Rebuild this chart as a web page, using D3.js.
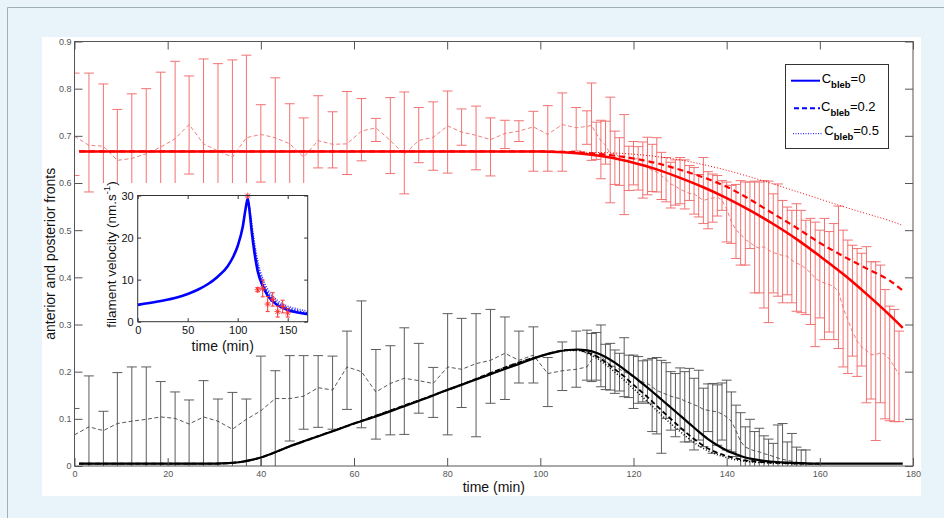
<!DOCTYPE html>
<html><head><meta charset="utf-8">
<script src="https://cdn.jsdelivr.net/npm/d3@7"></script>
<style>body{margin:0;background:#e8f4fa;}svg{display:block;}</style>
</head><body>
<svg id="c" width="944" height="518"></svg>
<script>
// ---------- DATA ----------
const xTicks = [0, 20, 40, 60, 80, 100, 120, 140, 160, 180];
const yTicks = [0, 0.1, 0.2, 0.3, 0.4, 0.5, 0.6, 0.7, 0.8, 0.9];
const insetXTicks = [0, 50, 100, 150];
const insetYTicks = [0, 10, 20, 30];

const timeEarly = [0, 3.1, 6.2, 9.2, 12.3, 15.4, 18.5, 21.6, 24.6, 27.7, 30.8, 33.9, 36.9, 40.0, 43.1, 46.2, 49.2, 52.3, 55.4, 58.5, 61.6, 64.7, 67.8, 70.8, 73.9, 77.0, 80.1, 83.1, 86.2, 89.3, 92.4, 95.4, 98.5, 101.6, 104.7, 107.7];
const timeLate = [110, 111, 112, 113, 114, 115, 116, 117, 118, 119, 120, 121, 122, 123, 124, 125, 126, 127, 128, 129, 130, 131, 132, 133, 134, 135, 136, 137, 138, 139, 140, 141, 142, 143, 144, 145, 146, 147, 148, 149, 150, 151, 152, 153, 154, 155, 156, 157, 158, 159, 160, 161, 162, 163, 164, 165, 166, 167, 168, 169, 170, 171, 172, 173, 174, 175, 176, 177];

// anterior front (red) : mean, lower and upper ends of error bars
const redMean = [0.699, 0.680, 0.678, 0.648, 0.652, 0.662, 0.676, 0.694, 0.724, 0.683, 0.668, 0.655, 0.696, 0.703, 0.696, 0.683, 0.655, 0.690, 0.682, 0.683, 0.710, 0.717, 0.690, 0.661, 0.690, 0.697, 0.721, 0.708, 0.701, 0.692, 0.705, 0.710, 0.719, 0.703, 0.724, 0.717,
  0.720, 0.722, 0.705, 0.690, 0.680, 0.661, 0.663, 0.655, 0.658, 0.652, 0.650, 0.652, 0.645, 0.633, 0.627, 0.623, 0.616, 0.607, 0.598, 0.593, 0.587, 0.582, 0.578, 0.577, 0.570, 0.563, 0.566, 0.568, 0.570, 0.563, 0.545, 0.518, 0.500, 0.492, 0.480, 0.474, 0.466, 0.462, 0.465, 0.458, 0.452, 0.450, 0.446, 0.445, 0.436, 0.430, 0.426, 0.418, 0.410, 0.398, 0.392, 0.388, 0.385, 0.380, 0.370, 0.335, 0.310, 0.285, 0.265, 0.252, 0.245, 0.236, 0.236, 0.240, 0.237, 0.226, 0.210, 0.194];
const redHigh = [0.833, 0.833, 0.810, 0.756, 0.789, 0.800, 0.835, 0.858, 0.827, 0.863, 0.853, 0.861, 0.871, 0.766, 0.823, 0.768, 0.738, 0.785, 0.751, 0.794, 0.779, 0.737, 0.781, 0.793, 0.760, 0.772, 0.795, 0.757, 0.763, 0.738, 0.733, 0.732, 0.752, 0.764, 0.791, 0.760,
  0.753, 0.812, 0.729, 0.733, 0.731, 0.782, 0.710, 0.696, 0.745, 0.678, 0.688, 0.677, 0.687, 0.697, 0.682, 0.696, 0.665, 0.654, 0.644, 0.649, 0.654, 0.649, 0.637, 0.633, 0.618, 0.654, 0.624, 0.619, 0.616, 0.605, 0.602, 0.595, 0.597, 0.605, 0.602, 0.602, 0.604, 0.602, 0.605, 0.604, 0.577, 0.598, 0.563, 0.549, 0.542, 0.556, 0.542, 0.521, 0.525, 0.517, 0.500, 0.525, 0.497, 0.514, 0.551, 0.500, 0.479, 0.468, 0.461, 0.451, 0.465, 0.433, 0.433, 0.426, 0.374, 0.339, 0.332, 0.286];
const redLow = [0.616, 0.581, 0.546, 0.540, 0.515, 0.524, 0.517, 0.530, 0.619, 0.503, 0.483, 0.450, 0.520, 0.602, 0.570, 0.585, 0.572, 0.632, 0.632, 0.618, 0.647, 0.688, 0.620, 0.577, 0.643, 0.627, 0.621, 0.680, 0.628, 0.615, 0.673, 0.688, 0.625, 0.625, 0.625, 0.668,
  0.682, 0.648, 0.650, 0.609, 0.640, 0.558, 0.597, 0.595, 0.533, 0.584, 0.596, 0.585, 0.568, 0.575, 0.582, 0.581, 0.565, 0.560, 0.547, 0.553, 0.556, 0.545, 0.563, 0.534, 0.528, 0.514, 0.503, 0.517, 0.530, 0.542, 0.475, 0.472, 0.440, 0.426, 0.426, 0.461, 0.367, 0.367, 0.335, 0.304, 0.367, 0.360, 0.346, 0.363, 0.346, 0.328, 0.325, 0.321, 0.300, 0.253, 0.314, 0.268, 0.284, 0.268, 0.249, 0.210, 0.196, 0.233, 0.190, 0.212, 0.134, 0.142, 0.054, 0.134, 0.100, 0.096, 0.094, 0.094];

// posterior front (black)
const blackMean = [0.066, 0.083, 0.075, 0.090, 0.095, 0.099, 0.104, 0.101, 0.089, 0.104, 0.095, 0.078, 0.099, 0.117, 0.143, 0.143, 0.148, 0.166, 0.161, 0.210, 0.200, 0.157, 0.175, 0.186, 0.181, 0.175, 0.210, 0.205, 0.217, 0.224, 0.239, 0.224, 0.235, 0.196, 0.202, 0.205,
  0.210, 0.225, 0.240, 0.235, 0.222, 0.215, 0.210, 0.205, 0.200, 0.195, 0.188, 0.182, 0.178, 0.175, 0.168, 0.160, 0.156, 0.152, 0.148, 0.145, 0.143, 0.138, 0.134, 0.130, 0.126, 0.120, 0.118, 0.116, 0.115, 0.110, 0.104, 0.095, 0.075, 0.052, 0.040, 0.036, 0.032, 0.030, 0.026, 0.024, 0.020, 0.017, 0.014, 0.012, 0.010, 0.008, 0.007, 0.006];
const blackHigh = [0.122, 0.191, 0.116, 0.198, 0.210, 0.210, 0.179, 0.157, 0.140, 0.181, 0.142, 0.156, 0.142, 0.233, 0.202, 0.234, 0.234, 0.234, 0.233, 0.286, 0.350, 0.247, 0.255, 0.293, 0.260, 0.209, 0.323, 0.313, 0.323, 0.332, 0.316, 0.286, 0.295, 0.230, 0.263, 0.286,
  0.288, 0.281, 0.283, 0.299, 0.258, 0.260, 0.246, 0.239, 0.272, 0.235, 0.235, 0.232, 0.223, 0.225, 0.228, 0.230, 0.224, 0.219, 0.200, 0.196, 0.208, 0.200, 0.207, 0.186, 0.203, 0.165, 0.174, 0.175, 0.172, 0.176, 0.182, 0.157, 0.129, 0.113, 0.083, 0.099, 0.073, 0.080, 0.064, 0.057, 0.048, 0.087, 0.090, 0.051, 0.069, 0.040, 0.034, 0.034];
const blackLow = [-0.010, -0.025, -0.020, -0.018, -0.020, -0.012, -0.010, -0.015, -0.010, -0.012, -0.010, -0.020, -0.008, -0.005, -0.010, 0.053, 0.078, 0.082, 0.078, 0.120, 0.081, 0.057, 0.066, 0.067, 0.112, 0.103, 0.066, 0.124, 0.062, 0.133, 0.141, 0.176, 0.176, 0.126, 0.160, 0.167,
  0.182, 0.179, 0.182, 0.168, 0.162, 0.161, 0.154, 0.159, 0.147, 0.145, 0.122, 0.133, 0.136, 0.133, 0.073, 0.068, 0.027, 0.101, 0.076, 0.062, 0.078, 0.051, 0.051, 0.034, 0.055, 0.041, 0.073, 0.027, 0.044, 0.055, 0.034, 0.030, 0.020, -0.005, -0.003, -0.027, -0.009, -0.020, -0.012, -0.009, -0.008, -0.053, -0.062, -0.027, -0.049, -0.024, -0.020, -0.022];

// model curves
const redModelT = [1, 100, 105, 110, 115, 120, 125, 130, 135, 140, 145, 150, 155, 160, 165, 170, 175, 177.8];
const redFit0  = [0.667, 0.667, 0.665, 0.661, 0.654, 0.643, 0.629, 0.611, 0.591, 0.568, 0.542, 0.513, 0.481, 0.445, 0.407, 0.365, 0.320, 0.293];
const redFit02 = [0.667, 0.667, 0.666, 0.664, 0.659, 0.652, 0.642, 0.628, 0.612, 0.592, 0.565, 0.535, 0.505, 0.473, 0.445, 0.419, 0.393, 0.372];
const redFit05 = [0.667, 0.667, 0.666, 0.665, 0.664, 0.661, 0.656, 0.649, 0.639, 0.627, 0.613, 0.598, 0.582, 0.566, 0.550, 0.535, 0.520, 0.510];

const blackModelT = [1, 30, 33, 36, 38, 40, 42, 44, 46, 50, 55, 60, 65, 70, 75, 80, 85, 90, 95, 100, 103, 106, 108, 110, 112, 114, 116, 118, 120, 122, 124, 126, 128, 130, 132, 134, 136, 138, 140, 142, 144, 146, 148, 150, 153, 156, 160, 177.8];
const blackFit0 = [0.005, 0.005, 0.006, 0.009, 0.013, 0.018, 0.025, 0.033, 0.041, 0.055, 0.072, 0.090, 0.106, 0.124, 0.142, 0.161, 0.179, 0.197, 0.215, 0.233, 0.241, 0.246, 0.247, 0.245, 0.240, 0.231, 0.219, 0.205, 0.190, 0.174, 0.158, 0.141, 0.124, 0.107, 0.090, 0.073, 0.057, 0.044, 0.033, 0.025, 0.018, 0.014, 0.011, 0.009, 0.007, 0.006, 0.005, 0.005];
const blackAltT = [1, 30, 36, 40, 46, 60, 80, 100, 106, 108, 110, 112, 114, 116, 118, 120, 122, 124, 126, 128, 130, 132, 134, 136, 138, 140, 142, 144, 146, 148, 150, 153, 156, 160];
const blackFit02 = [0.005, 0.005, 0.009, 0.018, 0.041, 0.090, 0.161, 0.233, 0.246, 0.246, 0.241, 0.233, 0.220, 0.205, 0.190, 0.172, 0.155, 0.137, 0.118, 0.100, 0.082, 0.065, 0.050, 0.037, 0.028, 0.021, 0.016, 0.012, 0.010, 0.008, 0.007, 0.006, 0.005, 0.005];
const blackFit05 = [0.005, 0.005, 0.009, 0.018, 0.041, 0.090, 0.161, 0.233, 0.245, 0.245, 0.239, 0.229, 0.215, 0.199, 0.182, 0.164, 0.146, 0.127, 0.108, 0.090, 0.073, 0.057, 0.043, 0.032, 0.024, 0.018, 0.013, 0.010, 0.008, 0.007, 0.006, 0.005, 0.005, 0.005];

// inset: filament velocity
const insetT  = [0, 20, 40, 50, 60, 70, 80, 90, 95, 100, 105, 108, 110, 112, 114, 117, 120, 125, 130, 140, 150, 160, 170];
const insetV0 = [4.0, 4.8, 5.8, 6.6, 7.6, 8.9, 10.7, 13.2, 15.2, 18.0, 22.5, 27.0, 29.3, 26.0, 21.5, 16.0, 12.0, 8.5, 6.2, 3.9, 2.8, 2.2, 1.8];
const insetAltT = [110, 112, 114, 117, 120, 125, 130, 140, 150, 160, 170];
const insetV02 = [29.3, 26.5, 22.5, 17.5, 13.5, 9.5, 7.0, 4.5, 3.3, 2.6, 2.1];
const insetV05 = [29.3, 27.0, 23.5, 18.5, 14.5, 10.3, 7.7, 5.0, 3.7, 3.0, 2.5];
const expT   = [110, 120, 125, 130, 135, 140, 145, 150];
const expV   = [29.9, 7.6, 7.9, 4.2, 5.3, 2.4, 3.6, 2.1];
const expErr = [0, 0.5, 2.0, 1.8, 1.6, 1.3, 1.5, 1.0];

const legendLabels = ["=0", "=0.2", "=0.5"];

// ---------- DRAWING ----------
const FONT = "'Liberation Sans', Arial, Helvetica, sans-serif";
const frontTime = timeEarly.concat(timeLate);
const backTime = timeEarly.concat(timeLate.slice(0, blackMean.length - timeEarly.length));

const svg = d3.select('#c');
svg.append('rect').attr('width', 944).attr('height', 518).attr('fill', '#e8f4fa');
svg.append('path').attr('d', 'M7.5,518V7.5H944').attr('fill', 'none').attr('stroke', '#9fb0b9').attr('stroke-width', 1);
svg.append('rect').attr('x', 42).attr('y', 37).attr('width', 879).attr('height', 459).attr('fill', '#fff');

const x = d3.scaleLinear().domain([0, 180]).range([74.5, 913]);
const y = d3.scaleLinear().domain([0, 0.9]).range([466, 41.5]);

svg.append('defs').append('clipPath').attr('id', 'pc')
  .append('rect').attr('x', x(0)).attr('y', y(0.9)).attr('width', x(180) - x(0)).attr('height', y(0) - y(0.9));

const plot = svg.append('g').attr('clip-path', 'url(#pc)');

function errorBars(T, lo, hi, color, cap) {
  plot.append('path')
    .attr('d', T.map((t, i) => {
      const xx = x(t), y1 = y(lo[i]), y2 = y(hi[i]);
      return `M${xx},${y1}V${y2}M${xx - cap},${y1}H${xx + cap}M${xx - cap},${y2}H${xx + cap}`;
    }).join(''))
    .attr('fill', 'none').attr('stroke', color).attr('stroke-width', 1);
}
const lin = d3.line().x(d => x(d[0])).y(d => y(d[1]));
const smooth = d3.line().x(d => x(d[0])).y(d => y(d[1])).curve(d3.curveMonotoneX);

errorBars(frontTime, redLow, redHigh, '#f27272', 5);
errorBars(backTime, blackLow, blackHigh, '#5c5c5c', 5);

plot.append('path').attr('d', lin(d3.zip(frontTime, redMean))).attr('fill', 'none')
  .attr('stroke', '#ee7070').attr('stroke-width', 0.9).attr('stroke-dasharray', '4,2.5');
plot.append('path').attr('d', lin(d3.zip(backTime, blackMean))).attr('fill', 'none')
  .attr('stroke', '#444').attr('stroke-width', 0.9).attr('stroke-dasharray', '4,2.5');

// models
plot.append('path').attr('d', smooth(d3.zip(blackAltT, blackFit05))).attr('fill', 'none')
  .attr('stroke', '#000').attr('stroke-width', 1.5).attr('stroke-dasharray', '1,2');
plot.append('path').attr('d', smooth(d3.zip(blackAltT, blackFit02))).attr('fill', 'none')
  .attr('stroke', '#000').attr('stroke-width', 1.8).attr('stroke-dasharray', '5,3');
plot.append('path').attr('d', smooth(d3.zip(blackModelT, blackFit0))).attr('fill', 'none')
  .attr('stroke', '#000').attr('stroke-width', 2.2);

plot.append('path').attr('d', smooth(d3.zip(redModelT, redFit05))).attr('fill', 'none')
  .attr('stroke', '#ff0000').attr('stroke-width', 1).attr('stroke-dasharray', '1,2');
plot.append('path').attr('d', smooth(d3.zip(redModelT, redFit02))).attr('fill', 'none')
  .attr('stroke', '#ff0000').attr('stroke-width', 2.2).attr('stroke-dasharray', '6,4');
plot.append('path').attr('d', smooth(d3.zip(redModelT, redFit0))).attr('fill', 'none')
  .attr('stroke', '#ff0000').attr('stroke-width', 2.5);

// axes
function styleAxis(g, size) {
  g.select('.domain').remove();
  g.selectAll('line').attr('stroke', '#555');
  g.selectAll('text').attr('font-family', FONT).attr('font-size', size).attr('fill', '#555');
}
const fmtY = d => d === 0 ? '0' : d3.format('.1f')(d);
svg.append('g').attr('transform', `translate(0,${y(0)})`)
  .call(d3.axisBottom(x).tickValues(xTicks).tickSize(-8).tickPadding(5).tickFormat(d3.format('d')))
  .call(g => styleAxis(g, 9));
svg.append('g').attr('transform', `translate(0,${y(0.9)})`)
  .call(d3.axisTop(x).tickValues(xTicks).tickSize(-8).tickFormat(''))
  .call(g => styleAxis(g, 9));
svg.append('g').attr('transform', `translate(${x(0)},0)`)
  .call(d3.axisLeft(y).tickValues(yTicks).tickSize(-8).tickPadding(3).tickFormat(fmtY))
  .call(g => styleAxis(g, 9));
svg.append('g').attr('transform', `translate(${x(180)},0)`)
  .call(d3.axisRight(y).tickValues(yTicks).tickSize(-8).tickFormat(''))
  .call(g => styleAxis(g, 9));
svg.append('rect').attr('x', x(0)).attr('y', y(0.9)).attr('width', x(180) - x(0)).attr('height', y(0) - y(0.9))
  .attr('fill', 'none').attr('stroke', '#555').attr('stroke-width', 1);

svg.append('text').attr('x', (x(0) + x(180)) / 2).attr('y', 491.5).attr('text-anchor', 'middle')
  .attr('font-family', FONT).attr('font-size', 14).attr('fill', '#111').text('time (min)');
svg.append('text').attr('transform', `translate(55,${(y(0) + y(0.9)) / 2}) rotate(-90)`).attr('text-anchor', 'middle')
  .attr('font-family', FONT).attr('font-size', 14).attr('fill', '#111').text('anterior and posterior fronts');

// legend
const lg = svg.append('g');
lg.append('rect').attr('x', 785.5).attr('y', 64.5).attr('width', 103).attr('height', 84)
  .attr('fill', '#fff').attr('stroke', '#333').attr('stroke-width', 1);
const legRows = [
  {ly: 80.7, x1: 791, x2: 820, dash: null, w: 2, tx: 821.7, by: 82.5},
  {ly: 108.3, x1: 794, x2: 820, dash: '5,3', w: 2, tx: 821, by: 110.5},
  {ly: 133.7, x1: 793, x2: 822, dash: '1,1.5', w: 1, tx: 824.3, by: 135}
];
legRows.forEach((r, i) => {
  const ln = lg.append('line').attr('x1', r.x1).attr('x2', r.x2).attr('y1', r.ly).attr('y2', r.ly)
    .attr('stroke', '#0000ff').attr('stroke-width', r.w);
  if (r.dash) ln.attr('stroke-dasharray', r.dash);
  const t = lg.append('text').attr('x', r.tx).attr('y', r.by).attr('font-family', FONT).attr('fill', '#000');
  t.append('tspan').attr('font-size', 13).text('C');
  t.append('tspan').attr('font-size', 9.5).attr('font-weight', 'bold').attr('dy', 5).text('bleb');
  t.append('tspan').attr('font-size', 13).attr('dy', -5).text(legendLabels[i]);
});

// inset
const ix = d3.scaleLinear().domain([0, 170]).range([137.7, 307.7]);
const iy = d3.scaleLinear().domain([0, 30]).range([321.7, 195.5]);
const ins = svg.append('g');
ins.append('rect').attr('x', 95).attr('y', 183).attr('width', 227).attr('height', 170).attr('fill', '#fff');
svg.append('defs').append('clipPath').attr('id', 'ic')
  .append('rect').attr('x', ix(0)).attr('y', iy(30) - 4).attr('width', ix(170) - ix(0)).attr('height', iy(0) - iy(30) + 4);
const ip = ins.append('g').attr('clip-path', 'url(#ic)');
const iline = d3.line().x(d => ix(d[0])).y(d => iy(d[1])).curve(d3.curveMonotoneX);
ip.append('path').attr('d', iline(d3.zip(insetAltT, insetV05))).attr('fill', 'none')
  .attr('stroke', '#3030ff').attr('stroke-width', 1.5).attr('stroke-dasharray', '1,1.5');
ip.append('path').attr('d', iline(d3.zip(insetAltT, insetV02))).attr('fill', 'none')
  .attr('stroke', '#2020ff').attr('stroke-width', 1.5).attr('stroke-dasharray', '1.5,1.5');
ip.append('path').attr('d', iline(d3.zip(insetT, insetV0))).attr('fill', 'none')
  .attr('stroke', '#0000ff').attr('stroke-width', 2.6);
// experimental points
ip.append('path').attr('d', expT.map((t, i) => {
  const xx = ix(t), y1 = iy(expV[i] - expErr[i]), y2 = iy(expV[i] + expErr[i]);
  return expErr[i] > 0 ? `M${xx},${y1}V${y2}M${xx - 2},${y1}H${xx + 2}M${xx - 2},${y2}H${xx + 2}` : '';
}).join('')).attr('fill', 'none').attr('stroke', '#ff3030').attr('stroke-width', 1);
ip.append('path').attr('d', expT.map((t, i) => {
  const cx = ix(t), cy = iy(expV[i]), r = 3.2, d = r * 0.7;
  return `M${cx - r},${cy}H${cx + r}M${cx},${cy - r}V${cy + r}M${cx - d},${cy - d}L${cx + d},${cy + d}M${cx - d},${cy + d}L${cx + d},${cy - d}`;
}).join('')).attr('fill', 'none').attr('stroke', '#ff3030').attr('stroke-width', 0.9);

function styleInset(g) {
  g.select('.domain').remove();
  g.selectAll('line').attr('stroke', '#333');
  g.selectAll('text').attr('font-family', FONT).attr('font-size', 11).attr('fill', '#111');
}
ins.append('g').attr('transform', `translate(0,${iy(0)})`)
  .call(d3.axisBottom(ix).tickValues(insetXTicks).tickSize(-3.5).tickPadding(5)).call(styleInset);
ins.append('g').attr('transform', `translate(0,${iy(30)})`)
  .call(d3.axisTop(ix).tickValues(insetXTicks).tickSize(-3.5).tickFormat('')).call(styleInset);
ins.append('g').attr('transform', `translate(${ix(0)},0)`)
  .call(d3.axisLeft(iy).tickValues(insetYTicks).tickSize(-3.5).tickPadding(4)).call(styleInset);
ins.append('g').attr('transform', `translate(${ix(170)},0)`)
  .call(d3.axisRight(iy).tickValues(insetYTicks).tickSize(-3.5).tickFormat('')).call(styleInset);
ins.append('rect').attr('x', ix(0)).attr('y', iy(30)).attr('width', ix(170) - ix(0)).attr('height', iy(0) - iy(30))
  .attr('fill', 'none').attr('stroke', '#333').attr('stroke-width', 1);
ins.append('text').attr('x', (ix(0) + ix(170)) / 2).attr('y', 350.5).attr('text-anchor', 'middle')
  .attr('font-family', FONT).attr('font-size', 14).attr('fill', '#111').text('time (min)');
const yl = ins.append('text').attr('transform', `translate(116,${(iy(0) + iy(30)) / 2 - 4}) rotate(-90)`)
  .attr('text-anchor', 'middle').attr('font-family', FONT).attr('font-size', 13.5).attr('fill', '#111');
yl.append('tspan').text('filament velocity (nm.s');
yl.append('tspan').attr('font-size', 9.5).attr('dy', -6).text('-1');
yl.append('tspan').attr('dy', 6).text(')');
</script>
</body></html>
